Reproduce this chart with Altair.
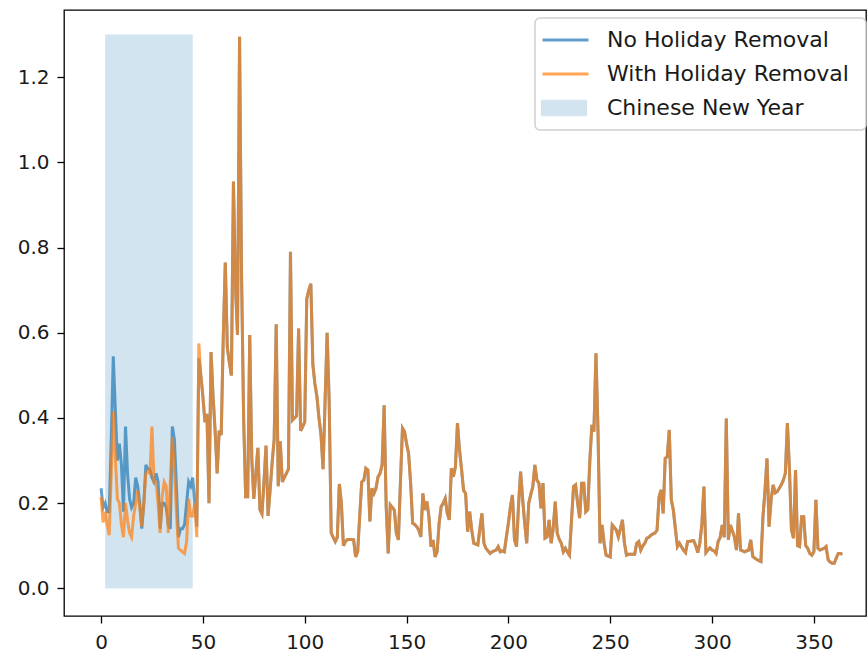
import altair as alt
import pandas as pd

# Daily ratio series, days 0-49 (Chinese New Year window differs between the two series)
no_removal_start = [
    0.235, 0.19, 0.20, 0.18, 0.18, 0.35, 0.545, 0.42, 0.30, 0.34,
    0.29, 0.18, 0.38, 0.27, 0.21, 0.19, 0.20, 0.26, 0.24, 0.20,
    0.14, 0.20, 0.29, 0.28, 0.28, 0.26, 0.25, 0.27, 0.25, 0.14,
    0.20, 0.20, 0.19, 0.15, 0.14, 0.38, 0.35, 0.24, 0.12, 0.14,
    0.14, 0.15, 0.20, 0.25, 0.24, 0.26, 0.20, 0.145, 0.54, 0.50,
]
with_removal_start = [
    0.215, 0.155, 0.18, 0.15, 0.125, 0.27, 0.415, 0.31, 0.21, 0.20,
    0.15, 0.12, 0.20, 0.16, 0.13, 0.12, 0.17, 0.20, 0.23, 0.19,
    0.145, 0.20, 0.27, 0.275, 0.27, 0.38, 0.25, 0.25, 0.20, 0.13,
    0.215, 0.25, 0.24, 0.13, 0.25, 0.356, 0.28, 0.18, 0.094, 0.09,
    0.086, 0.082, 0.11, 0.21, 0.17, 0.17, 0.20, 0.12, 0.575, 0.50,
]
# Days 50-364, identical for both series
rest_of_year = [
    0.45,
    0.39, 0.41, 0.20, 0.555, 0.45, 0.37, 0.27, 0.37, 0.36, 0.59,
    0.765, 0.565, 0.53, 0.50, 0.955, 0.71, 0.595, 1.295, 0.73, 0.40,
    0.215, 0.215, 0.595, 0.305, 0.21, 0.27, 0.33, 0.185, 0.175, 0.25,
    0.335, 0.17, 0.23, 0.295, 0.35, 0.62, 0.24, 0.345, 0.25, 0.26,
    0.27, 0.28, 0.79, 0.395, 0.40, 0.405, 0.61, 0.37, 0.38, 0.39,
    0.68, 0.70, 0.715, 0.525, 0.48, 0.45, 0.40, 0.36, 0.28, 0.44,
    0.60, 0.44, 0.13, 0.12, 0.11, 0.12, 0.245, 0.20, 0.10, 0.11,
    0.115, 0.115, 0.115, 0.114, 0.074, 0.086, 0.17, 0.25, 0.254, 0.282,
    0.278, 0.157, 0.235, 0.223, 0.235, 0.262, 0.27, 0.29, 0.43, 0.192,
    0.082, 0.196, 0.19, 0.184, 0.129, 0.114, 0.25, 0.376, 0.368, 0.34,
    0.317, 0.247, 0.153, 0.15, 0.145, 0.137, 0.121, 0.223, 0.184, 0.204,
    0.168, 0.098, 0.114, 0.074, 0.086, 0.153, 0.192, 0.20, 0.211, 0.176,
    0.161, 0.282, 0.262, 0.286, 0.388, 0.325, 0.28, 0.23, 0.223, 0.133,
    0.18, 0.137, 0.106, 0.104, 0.102, 0.14, 0.176, 0.106, 0.094, 0.088,
    0.082, 0.086, 0.088, 0.09, 0.098, 0.086, 0.088, 0.086, 0.12, 0.153,
    0.192, 0.219, 0.114, 0.098, 0.196, 0.274, 0.21, 0.153, 0.106, 0.20,
    0.22, 0.239, 0.29, 0.254, 0.247, 0.188, 0.247, 0.118, 0.121, 0.161,
    0.106, 0.14, 0.204, 0.129, 0.115, 0.106, 0.086, 0.094, 0.085, 0.078,
    0.16, 0.239, 0.243, 0.20, 0.165, 0.247, 0.247, 0.18, 0.185, 0.30,
    0.384, 0.368, 0.552, 0.37, 0.106, 0.149, 0.106, 0.078, 0.076, 0.074,
    0.149, 0.143, 0.137, 0.121, 0.14, 0.161, 0.106, 0.078, 0.08, 0.08,
    0.08, 0.08, 0.106, 0.11, 0.09, 0.10, 0.106, 0.118, 0.12, 0.125,
    0.128, 0.13, 0.137, 0.215, 0.231, 0.176, 0.305, 0.309, 0.372, 0.208,
    0.184, 0.14, 0.098, 0.106, 0.098, 0.09, 0.084, 0.11, 0.11, 0.112,
    0.112, 0.10, 0.084, 0.106, 0.15, 0.239, 0.084, 0.09, 0.095, 0.09,
    0.088, 0.082, 0.11, 0.12, 0.149, 0.12, 0.399, 0.114, 0.149, 0.135,
    0.12, 0.09, 0.176, 0.09, 0.088, 0.086, 0.088, 0.09, 0.114, 0.075,
    0.071, 0.068, 0.065, 0.063, 0.168, 0.23, 0.305, 0.145, 0.208, 0.243,
    0.224, 0.227, 0.235, 0.243, 0.254, 0.27, 0.388, 0.28, 0.137, 0.118,
    0.278, 0.10, 0.098, 0.168, 0.168, 0.10, 0.094, 0.082, 0.078, 0.086,
    0.208, 0.094, 0.09, 0.092, 0.094, 0.098, 0.067, 0.062, 0.059,
    0.059, 0.071, 0.082, 0.082, 0.08,
]

series_names = ["No Holiday Removal", "With Holiday Removal"]
series_colors = ["#1f77b4", "#ff7f0e"]

holiday_label = "Chinese New Year"
holiday_start = 2
holiday_end = 45
holiday_top = 1.3

x_ticks = [0, 50, 100, 150, 200, 250, 300, 350]
y_ticks = [0.0, 0.2, 0.4, 0.6, 0.8, 1.0, 1.2]

rows = []
for name, start in zip(series_names, [no_removal_start, with_removal_start]):
    for day, val in enumerate(start + rest_of_year):
        rows.append({"day": day, "value": val, "series": name})
lines_df = pd.DataFrame(rows)

holiday_df = pd.DataFrame([{
    "start": holiday_start, "end": holiday_end,
    "bottom": 0.0, "top": holiday_top, "label": holiday_label,
}])

FONT = "DejaVu Sans"
x_scale = alt.Scale(domain=[-18.2, 375.6], nice=False, zero=False)
y_scale = alt.Scale(domain=[-0.0648, 1.3577], nice=False, zero=False)

x_axis = alt.Axis(values=x_ticks, title=None, grid=False, domain=False,
                  tickSize=7, tickWidth=1.3, tickColor="#000",
                  labelFont=FONT, labelFontSize=20, labelColor="#1a1a1a",
                  labelPadding=9, labelFlush=False)
y_axis = alt.Axis(values=y_ticks, format=".1f", title=None, grid=False, domain=False,
                  tickSize=7, tickWidth=1.3, tickColor="#000",
                  labelFont=FONT, labelFontSize=20, labelColor="#1a1a1a",
                  labelPadding=8, labelFlush=False)

line_color = alt.Color(
    "series:N",
    scale=alt.Scale(domain=series_names, range=series_colors),
    legend=alt.Legend(
        title=None, orient="none", legendX=477, legendY=13,
        symbolType="stroke", symbolSize=2116, symbolStrokeWidth=3,
        symbolOpacity=0.7, symbolOffset=0, padding=0,
        labelFont=FONT, labelFontSize=22, labelColor="#1a1a1a",
        labelLimit=400, labelOffset=17, rowPadding=0, clipHeight=34,
    ),
)

shade = alt.Chart(holiday_df).mark_rect(fillOpacity=0.2, strokeWidth=0).encode(
    x=alt.X("start:Q", scale=x_scale, axis=x_axis),
    x2="end:Q",
    y=alt.Y("bottom:Q", scale=y_scale, axis=y_axis),
    y2="top:Q",
    fill=alt.Fill(
        "label:N",
        scale=alt.Scale(domain=[holiday_label], range=["#1f77b4"]),
        legend=alt.Legend(
            title=None, orient="none", legendX=477, legendY=81,
            symbolType="M-1,-0.36H1V0.36H-1Z", symbolSize=2116,
            symbolStrokeWidth=0, symbolOpacity=0.2, symbolOffset=0, padding=0,
            labelFont=FONT, labelFontSize=22, labelColor="#1a1a1a",
            labelLimit=400, labelOffset=20, clipHeight=34,
        ),
    ),
)

def series_line(name):
    return alt.Chart(lines_df).transform_filter(
        alt.datum.series == name
    ).mark_line(strokeWidth=3, opacity=0.7).encode(
        x=alt.X("day:Q", scale=x_scale, axis=x_axis),
        y=alt.Y("value:Q", scale=y_scale, axis=y_axis),
        color=line_color,
        order="day:Q",
    )

# legend frame
frame = alt.Chart(alt.Data(values=[{}])).mark_rect(
    cornerRadius=5, fill="white", fillOpacity=0.8,
    stroke="#d0d0d0", strokeWidth=1.5,
).encode(
    x=alt.value(471), x2=alt.value(802), y=alt.value(8), y2=alt.value(120)
)

chart = alt.layer(
    shade, series_line(series_names[0]), series_line(series_names[1]), frame
).resolve_scale(color="shared").properties(
    width=802, height=606,
    autosize=alt.AutoSizeParams(type="none"),
    padding={"left": 64, "top": 10, "right": 2, "bottom": 40},
    background="white",
).configure_view(
    stroke="#000", strokeWidth=1.3
)

chart.save("out.html", embed_options={"renderer": "svg", "actions": False})
